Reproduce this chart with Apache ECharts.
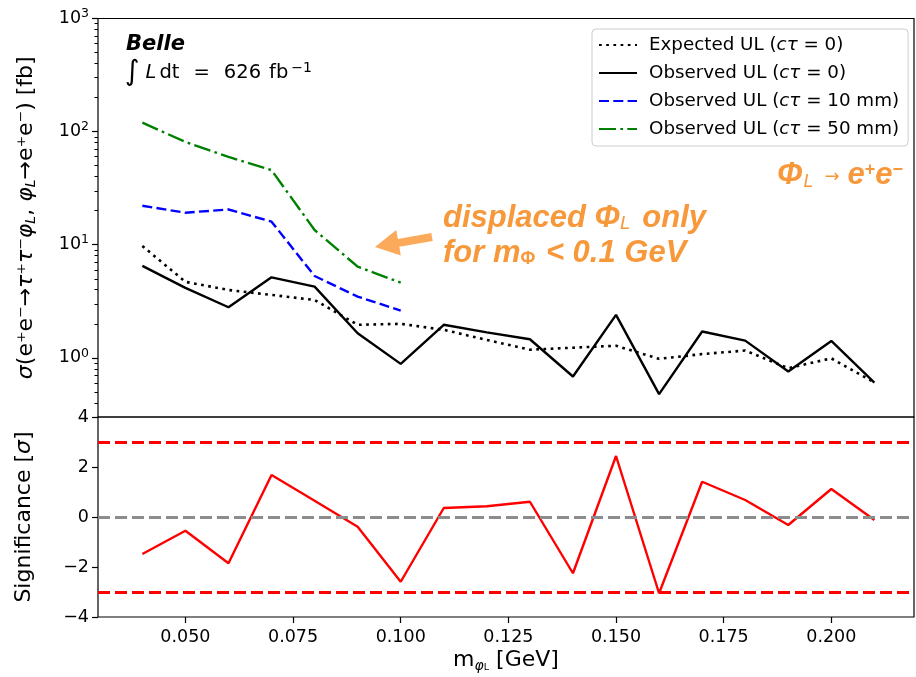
<!DOCTYPE html>
<html>
<head>
<meta charset="utf-8">
<script src="https://cdn.jsdelivr.net/npm/echarts@6/dist/echarts.min.js"></script>
<style>
  html, body { margin: 0; padding: 0; background: #ffffff; }
  #chart { width: 916px; height: 677px; }
</style>
</head>
<body>
<div id="chart"></div>
<script>
// Scalar mass points [GeV]
const massGeV = [0.04, 0.05, 0.06, 0.07, 0.08, 0.09, 0.10, 0.11, 0.12,
                 0.13, 0.14, 0.15, 0.16, 0.17, 0.18, 0.19, 0.20, 0.21];
// Upper limits on the cross section [fb], prompt decay
const expectedUL = [9.75, 4.7, 3.98, 3.6, 3.25, 1.96, 2.0, 1.77, 1.44,
                    1.18, 1.23, 1.28, 0.98, 1.08, 1.16, 0.81, 0.99, 0.605];
const observedUL = [6.5, 4.15, 2.8, 5.15, 4.26, 1.65, 0.885, 1.96, 1.68,
                    1.46, 0.684, 2.4, 0.478, 1.71, 1.42, 0.757, 1.41, 0.605];
// Displaced decays, only evaluated below 0.1 GeV
const massDisplaced = [0.04, 0.05, 0.06, 0.07, 0.08, 0.09, 0.10];
const observedUL10mm = [22.1, 19.2, 20.5, 16.0, 5.29, 3.48, 2.62];
const observedUL50mm = [120, 81, 59.8, 45.6, 13.5, 6.4, 4.62];
// Local significance [sigma]
const significance = [-1.48, -0.55, -1.85, 1.68, 0.65, -0.39, -2.59, 0.36, 0.43,
                      0.61, -2.25, 2.44, -3.05, 1.41, 0.68, -0.32, 1.12, -0.12];

// Axis ticks and reference levels
const massTicks = [0.05, 0.075, 0.1, 0.125, 0.15, 0.175, 0.2];
const logMajorTicks = [1, 10, 100, 1000];
const logMinorTicks = [0.3, 0.4, 0.5, 0.6, 0.7, 0.8, 0.9,
                       2, 3, 4, 5, 6, 7, 8, 9,
                       20, 30, 40, 50, 60, 70, 80, 90,
                       200, 300, 400, 500, 600, 700, 800, 900];
const sigTicks = [-4, -2, 0, 2, 4];
const sigBands = [3, -3];
const sigZero = 0;

const seriesNames = ['Expected UL (cτ = 0)', 'Observed UL (cτ = 0)',
                     'Observed UL (cτ = 10 mm)', 'Observed UL (cτ = 50 mm)'];

const FONT = 'DejaVu Sans';
const ORANGE = '#f7983b';
const TITLE_SIZE = 22;
const pairs = (xs, ys) => xs.map((x, i) => [x, ys[i]]);
const xMin = 0.0297, xMax = 0.2192;

const chart = echarts.init(document.getElementById('chart'), null, {renderer: 'canvas'});

const option = {
  backgroundColor: '#ffffff',
  animation: false,
  textStyle: { fontFamily: FONT },
  grid: [
    { left: 98, right: 2, top: 18.5, height: 398.5, show: true,
      borderColor: '#000', borderWidth: 1.2, backgroundColor: 'transparent' },
    { left: 98, right: 2, top: 417, height: 200, show: true,
      borderColor: '#000', borderWidth: 1.2, backgroundColor: 'transparent' }
  ],
  xAxis: [
    { gridIndex: 0, type: 'value', min: xMin, max: xMax,
      axisLine: { show: false, onZero: false }, axisTick: { show: false },
      axisLabel: { show: false }, splitLine: { show: false } },
    { gridIndex: 1, type: 'value', min: xMin, max: xMax, position: 'bottom',
      axisLine: { show: false, onZero: false },
      axisTick: { show: true, length: 6, customValues: massTicks,
                  lineStyle: { color: '#000', width: 1.2 } },
      axisLabel: { customValues: massTicks, margin: 11, fontSize: 17.5,
                   color: '#000', fontFamily: FONT,
                   formatter: v => Number(v).toFixed(3) },
      splitLine: { show: false },
      name: '{t|m}{s|φ}{ss|L}{t| [GeV]}', nameLocation: 'middle', nameGap: 30,
      nameTextStyle: {
        rich: {
          t: { fontSize: TITLE_SIZE, fontFamily: FONT, color: '#000' },
          s: { fontSize: 14, fontStyle: 'italic', fontFamily: FONT, color: '#000',
               verticalAlign: 'bottom', padding: [12, 0, 0, 0] },
          ss: { fontSize: 9.5, fontFamily: FONT, color: '#000',
                verticalAlign: 'bottom', padding: [14, 0, 0, 0] }
        }
      } }
  ],
  yAxis: [
    { gridIndex: 0, type: 'log', logBase: 10, min: 0.3, max: 1000,
      axisLine: { show: false },
      axisTick: { show: true, length: 6, customValues: logMajorTicks,
                  lineStyle: { color: '#000', width: 1.2 } },
      axisLabel: { customValues: logMajorTicks, margin: 9,
                   formatter: v => '{b|10}{e|' + Math.round(Math.log10(v)) + '}',
                   rich: {
                     b: { fontSize: 17.5, color: '#000', fontFamily: FONT },
                     e: { fontSize: 12.5, color: '#000', fontFamily: FONT,
                          verticalAlign: 'top', padding: [0, 0, 9, 0] }
                   } },
      splitLine: { show: false },
      name: '{i|σ}(e⁺e⁻→{i|τ}⁺{i|τ}⁻{i|φ}{s|L}, {i|φ}{s|L}→e⁺e⁻) [fb]',
      nameLocation: 'middle', nameRotate: 90, nameGap: 60,
      nameTextStyle: {
        fontSize: TITLE_SIZE, color: '#000', fontFamily: FONT,
        rich: {
          i: { fontSize: TITLE_SIZE, fontStyle: 'italic', fontFamily: FONT, color: '#000' },
          s: { fontSize: 14, fontStyle: 'italic', fontFamily: FONT, color: '#000',
               verticalAlign: 'bottom', padding: [10, 0, 0, 0] }
        }
      } },
    { gridIndex: 0, type: 'log', logBase: 10, min: 0.3, max: 1000, position: 'left',
      axisLine: { show: false },
      axisTick: { show: true, length: 3.5, customValues: logMinorTicks,
                  lineStyle: { color: '#000', width: 1 } },
      axisLabel: { show: false }, splitLine: { show: false } },
    { gridIndex: 1, type: 'value', min: -4, max: 4, interval: 2,
      axisLine: { show: false },
      axisTick: { show: true, length: 6, lineStyle: { color: '#000', width: 1.2 } },
      axisLabel: { margin: 9, fontSize: 17.5, color: '#000', fontFamily: FONT,
                   formatter: v => String(v).replace('-', '−') },
      splitLine: { show: false },
      name: 'Significance [{i|σ}]', nameLocation: 'middle', nameGap: 63,
      nameTextStyle: {
        fontSize: TITLE_SIZE, color: '#000', fontFamily: FONT,
        rich: { i: { fontSize: TITLE_SIZE, fontStyle: 'italic', fontFamily: FONT, color: '#000' } }
      } }
  ],
  legend: {
    orient: 'vertical', left: 592, top: 29,
    data: seriesNames,
    selectedMode: false,
    itemWidth: 38, itemHeight: 14, itemGap: 8,
    padding: [6, 9, 7, 6],
    backgroundColor: 'rgba(255,255,255,0.8)',
    borderColor: '#cccccc', borderWidth: 1, borderRadius: 4,
    itemStyle: { color: 'rgba(0,0,0,0)', borderWidth: 0, opacity: 0 },
    textStyle: {
      fontSize: 18.3, color: '#000', fontFamily: FONT, lineHeight: 20,
      padding: [0, 0, 0, 7],
      rich: { i: { fontSize: 18.3, fontStyle: 'italic', fontFamily: FONT, color: '#000' } }
    },
    formatter: name => name.replace('cτ', '{i|cτ}')
  },
  series: [
    { name: seriesNames[0], type: 'line', xAxisIndex: 0, yAxisIndex: 0,
      data: pairs(massGeV, expectedUL), symbol: 'none', z: 3,
      lineStyle: { color: '#000', width: 2.6, type: [2.7, 4.5] }, itemStyle: { color: '#000' } },
    { name: seriesNames[1], type: 'line', xAxisIndex: 0, yAxisIndex: 0,
      data: pairs(massGeV, observedUL), symbol: 'none', z: 3,
      lineStyle: { color: '#000', width: 2.4 }, itemStyle: { color: '#000' } },
    { name: seriesNames[2], type: 'line', xAxisIndex: 0, yAxisIndex: 0,
      data: pairs(massDisplaced, observedUL10mm), symbol: 'none', z: 3,
      lineStyle: { color: '#0000ff', width: 2.4, type: [10, 4.3] }, itemStyle: { color: '#0000ff' } },
    { name: seriesNames[3], type: 'line', xAxisIndex: 0, yAxisIndex: 0,
      data: pairs(massDisplaced, observedUL50mm), symbol: 'none', z: 3,
      lineStyle: { color: '#008000', width: 2.4, type: [17, 4.3, 2.7, 4.3] }, itemStyle: { color: '#008000' } },
    // reference levels in the significance panel
    { name: 'levels', type: 'line', xAxisIndex: 1, yAxisIndex: 2, data: [], z: 2,
      markLine: {
        silent: true, symbol: 'none', label: { show: false },
        data: [
          { yAxis: sigBands[0], lineStyle: { color: '#ff0000', width: 3, type: [12, 5] } },
          { yAxis: sigBands[1], lineStyle: { color: '#ff0000', width: 3, type: [12, 5] } },
          { yAxis: sigZero, lineStyle: { color: '#8c8c8c', width: 3, type: [12, 5] } }
        ]
      } },
    { name: 'significance', type: 'line', xAxisIndex: 1, yAxisIndex: 2,
      data: pairs(massGeV, significance), symbol: 'none', z: 4,
      lineStyle: { color: '#ff0000', width: 2.4 }, itemStyle: { color: '#ff0000' } }
  ],
  graphic: [
    { type: 'text', x: 126, y: 45, z: 10,
      style: { text: 'Belle', fontFamily: FONT, fontSize: 21, fontWeight: 'bold',
               fontStyle: 'italic', fill: '#000', align: 'left', verticalAlign: 'middle' } },
    { type: 'text', x: 125, y: 73, z: 10,
      style: {
        text: '{int|∫}{it|L}{n|dt}{w|=}{w|626}{f|fb}{sup|−1}',
        align: 'left', verticalAlign: 'middle',
        rich: {
          int: { fontFamily: FONT, fontSize: 28, fill: '#000' },
          it: { fontFamily: FONT, fontSize: 19.5, fontStyle: 'italic', fill: '#000', padding: [0, 0, 0, 6] },
          n: { fontFamily: FONT, fontSize: 19.5, fill: '#000', padding: [0, 0, 0, 3] },
          w: { fontFamily: FONT, fontSize: 19.5, fill: '#000', padding: [0, 0, 0, 14] },
          f: { fontFamily: FONT, fontSize: 19.5, fill: '#000', padding: [0, 0, 0, 8] },
          sup: { fontFamily: FONT, fontSize: 14, fill: '#000', verticalAlign: 'top', padding: [2, 0, 10, 3] }
        }
      } },
    { type: 'text', x: 777, y: 175, z: 10,
      style: {
        text: '{b|Φ}{s|L}{a|→}{b|e}{p|+}{b|e}{p|−}',
        align: 'left', verticalAlign: 'middle',
        rich: {
          b: { fontFamily: 'Liberation Sans', fontSize: 31, fontWeight: 'bold', fontStyle: 'italic', fill: ORANGE },
          s: { fontFamily: 'Liberation Sans', fontSize: 18, fontStyle: 'italic', fill: ORANGE,
               verticalAlign: 'bottom', padding: [10, 0, 0, 1] },
          a: { fontFamily: 'DejaVu Sans', fontSize: 18, fill: ORANGE, padding: [4, 8, 0, 11] },
          p: { fontFamily: 'Liberation Sans', fontSize: 18, fontWeight: 'bold', fill: ORANGE,
               verticalAlign: 'top', padding: [2, 0, 12, 0] }
        }
      } },
    { type: 'text', x: 443, y: 218, z: 10,
      style: {
        text: '{b|displaced Φ}{s|L}{b| only}',
        align: 'left', verticalAlign: 'middle',
        rich: {
          b: { fontFamily: 'Liberation Sans', fontSize: 31, fontWeight: 'bold', fontStyle: 'italic', fill: ORANGE },
          s: { fontFamily: 'Liberation Sans', fontSize: 19, fontStyle: 'italic', fill: ORANGE,
               verticalAlign: 'bottom', padding: [10, 3, 0, 0] }
        }
      } },
    { type: 'text', x: 443, y: 253, z: 10,
      style: {
        text: '{b|for m}{s|Φ}{b| < 0.1 GeV}',
        align: 'left', verticalAlign: 'middle',
        rich: {
          b: { fontFamily: 'Liberation Sans', fontSize: 31, fontWeight: 'bold', fontStyle: 'italic', fill: ORANGE },
          s: { fontFamily: 'Liberation Sans', fontSize: 18, fontWeight: 'bold', fill: ORANGE,
               verticalAlign: 'bottom', padding: [10, 2, 0, 0] }
        }
      } },
    // arrow pointing at the displaced-decay curves
    { type: 'polygon', z: 10,
      shape: { points: [[432.7, 240.9], [399.3, 246.7], [400.8, 255.6], [375, 247],
                        [396.2, 230.1], [397.9, 238.9], [431.3, 233.1]] },
      style: { fill: '#fbaa5c' } }
  ]
};

chart.setOption(option);
</script>
</body>
</html>
